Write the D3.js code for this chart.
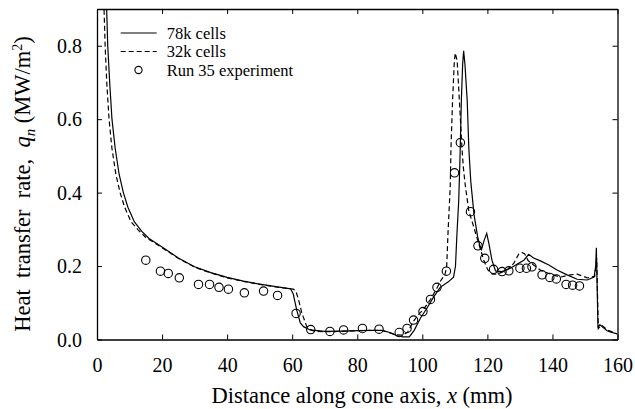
<!DOCTYPE html>
<html>
<head>
<meta charset="utf-8">
<script src="https://cdn.jsdelivr.net/npm/d3@7"></script>
<style>
  body { margin: 0; background: #fff; }
</style>
</head>
<body>
<script>
// distance along cone axis (mm) and heat transfer rate (MW/m^2)
var fineX = [2.9, 3.3, 3.9, 4.6, 5.6, 6.8, 8.1, 9.5, 11.5, 13.7, 16, 20, 25, 30, 35, 40, 45, 50, 55, 59.5,
  60.3, 61.4, 62.5, 63.5, 65.5, 70, 75, 80, 85, 87.5, 90, 92, 94, 96, 97.5, 99.4, 101.4, 103.5, 105.5, 108,
  109.6, 110.2, 110.6, 111.2, 111.6, 112, 112.4, 112.7, 113.1, 113.8, 114.3, 114.9, 115.9, 117, 117.7, 118.2,
  119, 119.8, 120.5, 121.4, 122.5, 124.5, 127.1, 129.1, 131.2, 132.7, 134.2, 136.3, 138.9, 141.4, 144.5,
  147.6, 150.7, 152.8, 153.3, 153.5, 153.8, 154.0, 154.6, 156.8, 158, 160];
var fineQ = [0.92, 0.80, 0.70, 0.60, 0.52, 0.45, 0.40, 0.36, 0.32, 0.295, 0.275, 0.252, 0.222, 0.198, 0.182,
  0.169, 0.159, 0.151, 0.144, 0.138, 0.125, 0.08, 0.045, 0.035, 0.026, 0.022, 0.023, 0.024, 0.025, 0.025,
  0.019, 0.011, 0.007, 0.007, 0.025, 0.058, 0.085, 0.116, 0.142, 0.157, 0.17, 0.20, 0.28, 0.38, 0.50, 0.65,
  0.75, 0.786, 0.75, 0.65, 0.52, 0.43, 0.34, 0.28, 0.255, 0.245, 0.27, 0.289, 0.26, 0.216, 0.187, 0.185,
  0.194, 0.205, 0.216, 0.232, 0.222, 0.214, 0.203, 0.189, 0.176, 0.164, 0.162, 0.17, 0.20, 0.25, 0.12, 0.035,
  0.040, 0.024, 0.02, 0.015];

var coarseX = [2.1, 2.5, 3.0, 3.7, 4.6, 5.8, 7.1, 8.5, 10.5, 12.7, 15, 20, 25, 30, 35, 40, 45, 50, 55, 60.4,
  61.2, 62, 63, 64.5, 66, 67, 70, 75, 80, 85, 88, 90, 92, 94, 95.5, 97.3, 99, 100.2, 102.5, 104.5, 105.5, 107,
  107.5, 107.9, 108.6, 108.8, 109.3, 109.8, 110.1, 110.7, 111.4, 112.2, 112.6, 113.2, 114.3, 115.8, 117.3,
  118.9, 120.1, 121.5, 123, 126, 128.1, 129.6, 130.6, 131.5, 132.5, 134.2, 136.3, 139.4, 142.5, 145.5, 147.6,
  150.7, 153, 153.4, 153.6, 154.1, 155, 157, 160];
var coarseQ = [0.92, 0.80, 0.70, 0.60, 0.52, 0.45, 0.40, 0.36, 0.32, 0.298, 0.278, 0.25, 0.221, 0.197, 0.181,
  0.168, 0.158, 0.150, 0.143, 0.137, 0.13, 0.107, 0.071, 0.035, 0.025, 0.022, 0.021, 0.022, 0.024, 0.025,
  0.024, 0.018, 0.013, 0.012, 0.02, 0.05, 0.07, 0.08, 0.109, 0.14, 0.158, 0.178, 0.20, 0.29, 0.42, 0.52, 0.65,
  0.75, 0.78, 0.76, 0.65, 0.52, 0.47, 0.42, 0.35, 0.307, 0.262, 0.216, 0.19, 0.178, 0.178, 0.189, 0.207,
  0.232, 0.237, 0.233, 0.215, 0.203, 0.189, 0.178, 0.17, 0.176, 0.178, 0.168, 0.172, 0.20, 0.22, 0.03, 0.04,
  0.025, 0.015];

var expX = [15.0, 19.5, 21.9, 25.3, 31.2, 34.6, 37.5, 40.4, 45.3, 51.2, 55.5, 61.2, 65.7, 71.6, 75.8, 81.6,
  86.7, 92.9, 95.3, 97.3, 100.2, 102.5, 104.5, 107.4, 109.9, 111.7, 114.8, 117.1, 119.2, 121.9, 124.5, 126.6,
  130.0, 132.0, 133.7, 136.8, 139.2, 141.2, 144.2, 146.2, 148.3];
var expQ = [0.216, 0.186, 0.180, 0.168, 0.150, 0.150, 0.142, 0.137, 0.127, 0.132, 0.120, 0.071, 0.027, 0.022,
  0.026, 0.030, 0.028, 0.019, 0.030, 0.053, 0.076, 0.109, 0.142, 0.186, 0.454, 0.536, 0.348, 0.255, 0.221,
  0.191, 0.185, 0.187, 0.194, 0.194, 0.198, 0.176, 0.169, 0.165, 0.150, 0.148, 0.146];

var xTicks = [0, 20, 40, 60, 80, 100, 120, 140, 160];
var yTicks = [0.0, 0.2, 0.4, 0.6, 0.8];
var legendLabels = ["78k cells", "32k cells", "Run 35 experiment"];

var width = 635, height = 409;
var serif = "'Liberation Serif', 'DejaVu Serif', serif";

var svg = d3.select("body").append("svg")
    .attr("width", width)
    .attr("height", height)
    .attr("font-family", serif);

var x = d3.scaleLinear().domain([0, 160]).range([97, 617.5]);
var y = d3.scaleLinear().domain([0, 0.9]).range([339.5, 9]);

//clip the curves to the frame
svg.append("clipPath").attr("id", "plotclip")
  .append("rect")
    .attr("x", x(0)).attr("y", y(0.9))
    .attr("width", x(160) - x(0)).attr("height", y(0) - y(0.9));

var line = d3.line()
    .x(function(d){ return x(d[0]); })
    .y(function(d){ return y(d[1]); });

var plot = svg.append("g").attr("clip-path", "url(#plotclip)");

plot.append("path")
    .datum(d3.zip(fineX, fineQ))
    .attr("fill", "none")
    .attr("stroke", "#000")
    .attr("stroke-width", 1.2)
    .attr("d", line);

plot.append("path")
    .datum(d3.zip(coarseX, coarseQ))
    .attr("fill", "none")
    .attr("stroke", "#000")
    .attr("stroke-width", 1.2)
    .attr("stroke-dasharray", "5,3")
    .attr("d", line);

plot.selectAll(".exp")
    .data(d3.zip(expX, expQ))
    .enter()
    .append("circle")
    .attr("class", "exp")
    .attr("cx", function(d){ return x(d[0]); })
    .attr("cy", function(d){ return y(d[1]); })
    .attr("r", 4.2)
    .attr("fill", "none")
    .attr("stroke", "#000")
    .attr("stroke-width", 1.1);

//axes: inward ticks on all four sides
var tickLen = 5;
var axBottom = svg.append("g")
    .attr("transform", "translate(0," + y(0) + ")")
    .call(d3.axisBottom(x).tickValues(xTicks).tickSizeInner(-tickLen).tickSizeOuter(0).tickPadding(18)
      .tickFormat(d3.format("d")));
var axTop = svg.append("g")
    .attr("transform", "translate(0," + y(0.9) + ")")
    .call(d3.axisTop(x).tickValues(xTicks).tickSizeInner(-tickLen).tickSizeOuter(0).tickFormat(""));
var axLeft = svg.append("g")
    .attr("transform", "translate(" + x(0) + ",0)")
    .call(d3.axisLeft(y).tickValues(yTicks).tickSizeInner(-tickLen).tickSizeOuter(0).tickPadding(15)
      .tickFormat(d3.format(".1f")));
var axRight = svg.append("g")
    .attr("transform", "translate(" + x(160) + ",0)")
    .call(d3.axisRight(y).tickValues(yTicks).tickSizeInner(-tickLen).tickSizeOuter(0).tickFormat(""));

[axBottom, axTop, axLeft, axRight].forEach(function(g){
  g.attr("font-family", serif).attr("font-size", 20);
  g.select(".domain").attr("stroke", "#000").attr("stroke-width", 1.3);
  g.selectAll(".tick line").attr("stroke", "#000").attr("stroke-width", 1);
  g.selectAll(".tick text").attr("fill", "#000");
});
axBottom.selectAll(".tick text").attr("dy", "0.71em");
axLeft.selectAll(".tick text").attr("dy", "0.33em");

//axis titles
var xt = svg.append("text")
    .attr("x", 362)
    .attr("y", 403)
    .attr("text-anchor", "middle")
    .attr("font-size", 22.5);
xt.append("tspan").text("Distance along cone axis, ");
xt.append("tspan").attr("font-style", "italic").text("x");
xt.append("tspan").text(" (mm)");

var yt = svg.append("text")
    .attr("transform", "translate(30,184) rotate(-90)")
    .attr("text-anchor", "middle")
    .attr("font-size", 22.5);
yt.append("tspan").attr("xml:space", "preserve").text("Heat  transfer  rate,  ");
yt.append("tspan").attr("font-style", "italic").text("q");
yt.append("tspan").attr("font-style", "italic").attr("font-size", 15).attr("dy", 5).text("n");
yt.append("tspan").attr("dy", -5).text(" (MW/m");
yt.append("tspan").attr("font-size", 14).attr("dy", -8).text("2");
yt.append("tspan").attr("dy", 8).text(")");

//legend
var legend = svg.append("g");
var rows = [33, 51.5, 70];
legend.append("line")
    .attr("x1", 120.7).attr("x2", 156.7).attr("y1", rows[0]).attr("y2", rows[0])
    .attr("stroke", "#000").attr("stroke-width", 1.2);
legend.append("line")
    .attr("x1", 120.7).attr("x2", 156.7).attr("y1", rows[1]).attr("y2", rows[1])
    .attr("stroke", "#000").attr("stroke-width", 1.2).attr("stroke-dasharray", "5,3");
legend.append("circle")
    .attr("cx", 138.5).attr("cy", rows[2]).attr("r", 3.6)
    .attr("fill", "none").attr("stroke", "#000").attr("stroke-width", 1.1);
legend.selectAll(".lab")
    .data(legendLabels)
    .enter()
    .append("text")
    .attr("class", "lab")
    .attr("x", 166.7)
    .attr("y", function(d, i){ return rows[i]; })
    .attr("dy", "0.35em")
    .attr("font-size", 16.5)
    .text(function(d){ return d; });
</script>
</body>
</html>
